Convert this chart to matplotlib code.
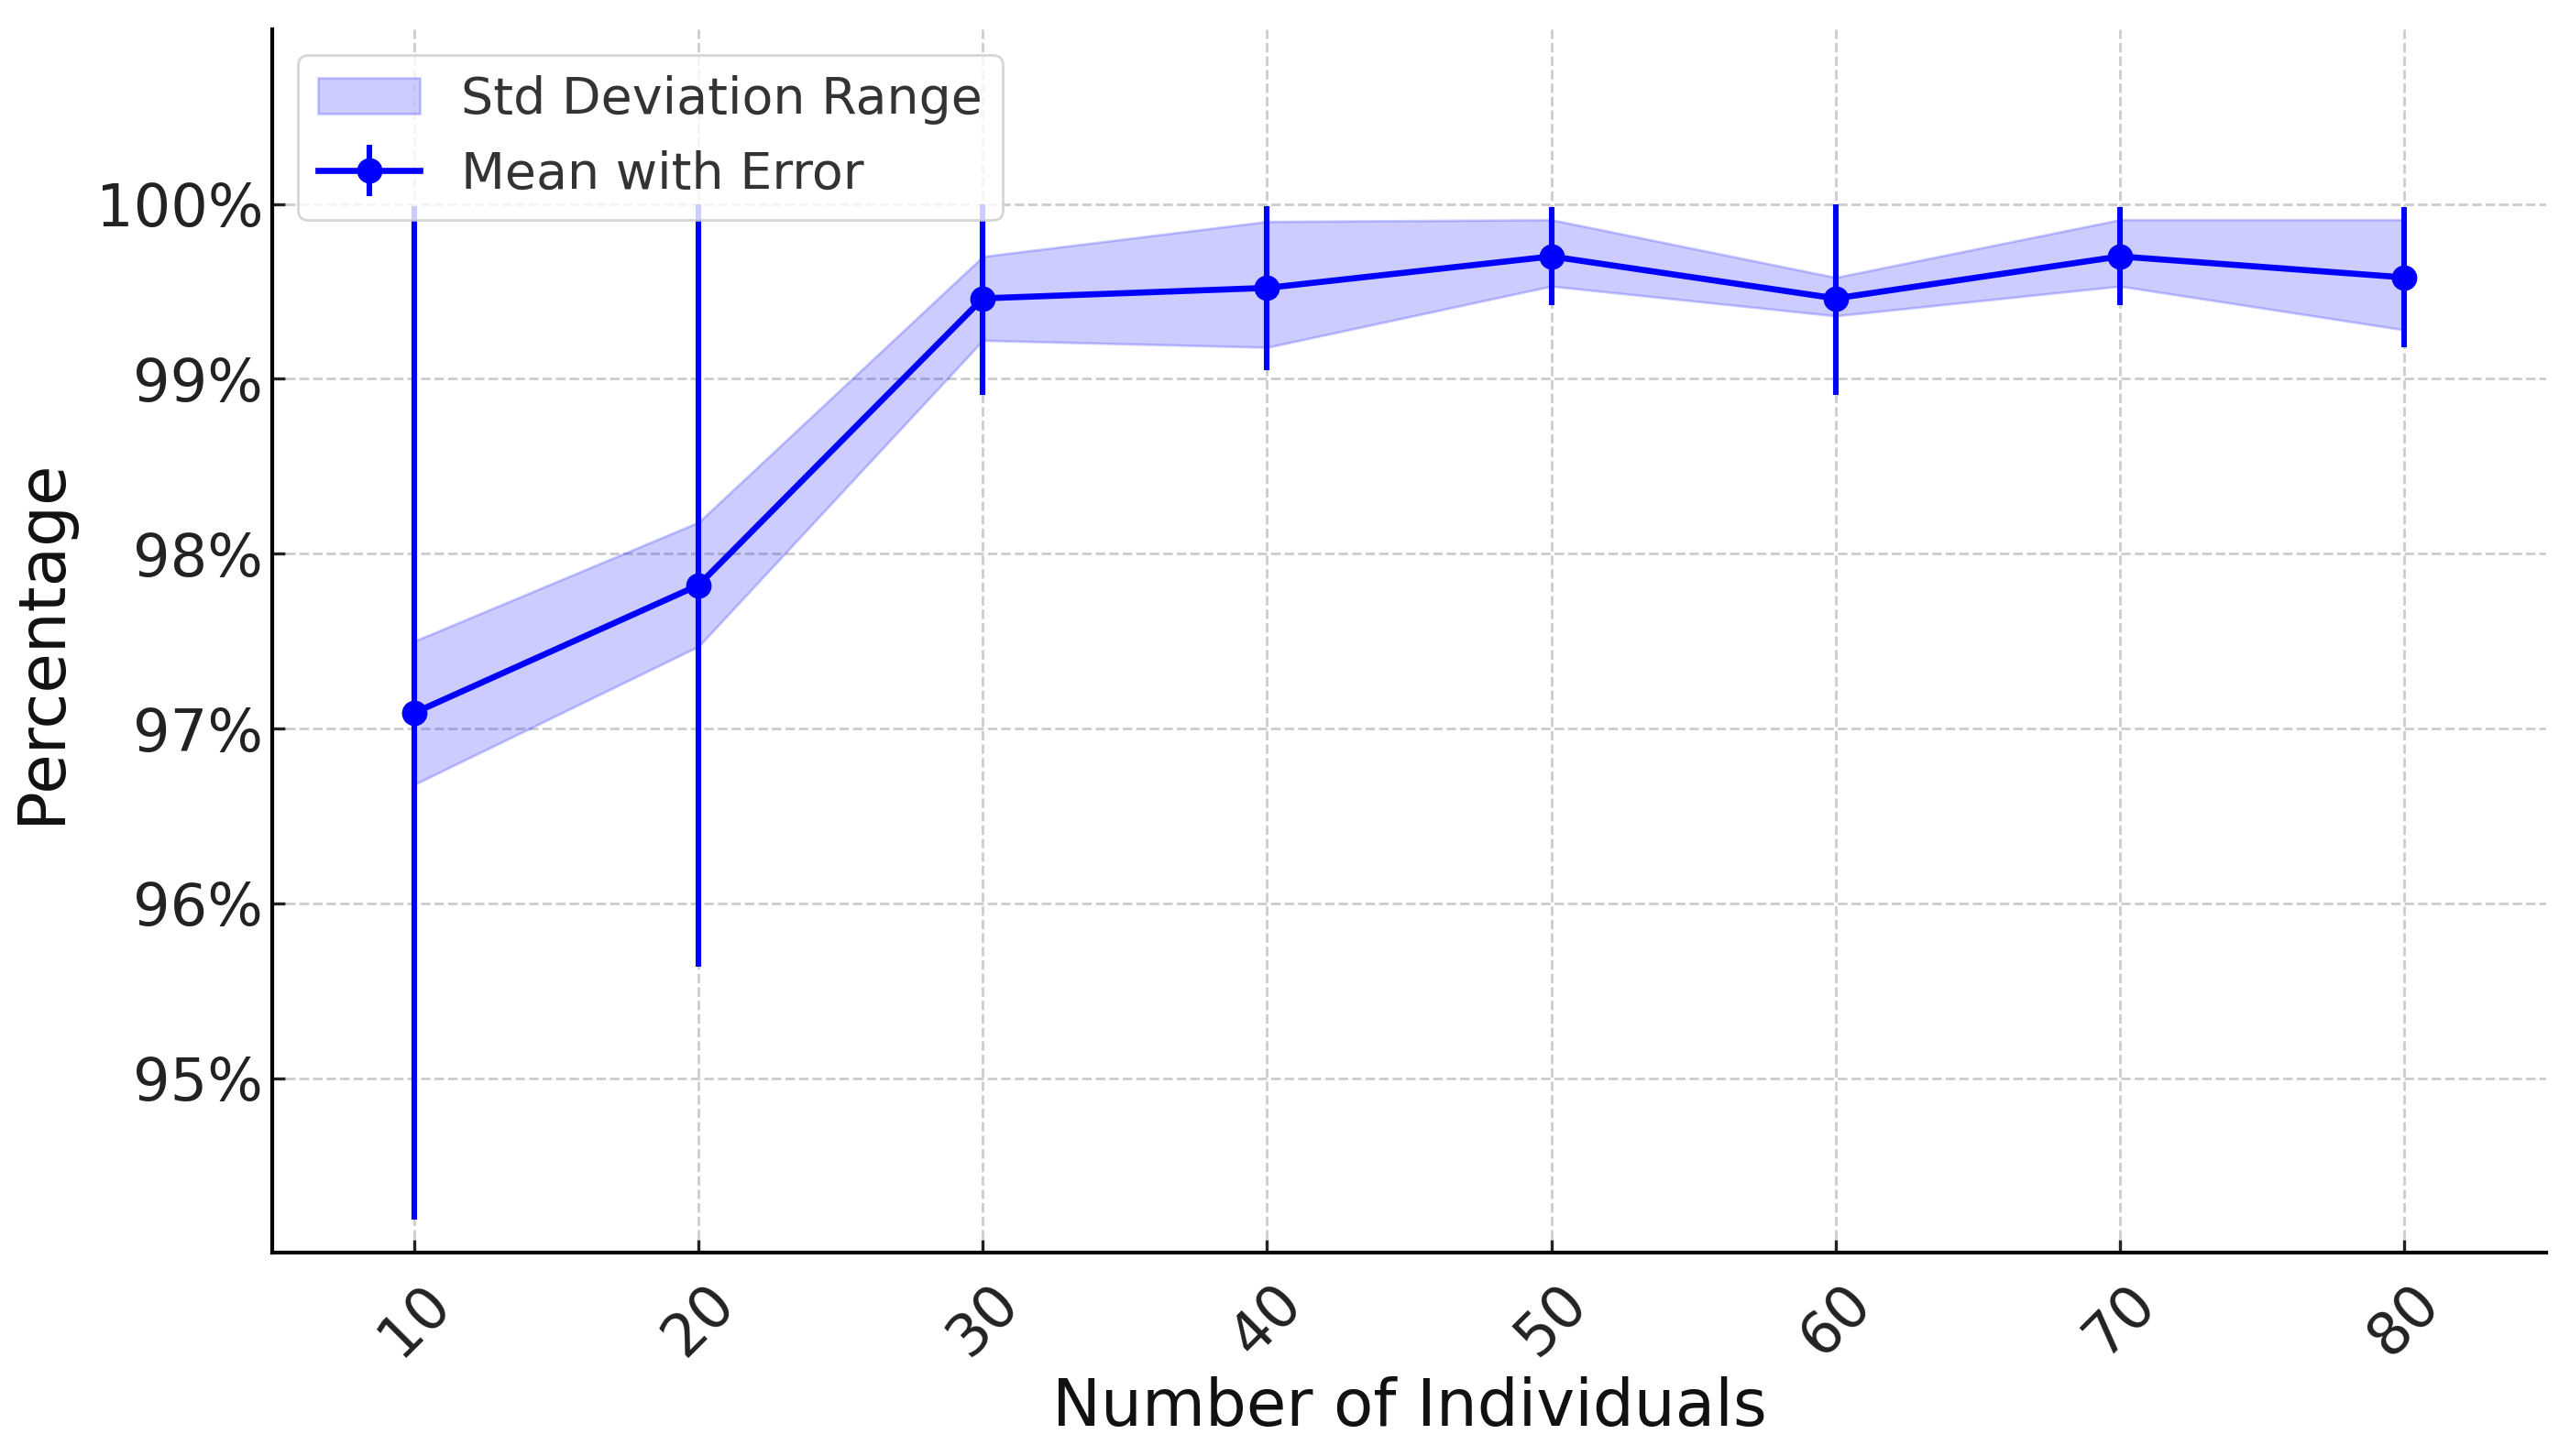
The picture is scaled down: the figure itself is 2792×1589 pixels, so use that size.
import numpy as np
import matplotlib.pyplot as plt
from matplotlib.ticker import PercentFormatter

# values
individuals = [10, 20, 30, 40, 50, 60, 70, 80]
mean_pct = [97.09, 97.82, 99.46, 99.52, 99.70, 99.46, 99.70, 99.58]
std_upper = [97.50, 98.18, 99.70, 99.90, 99.91, 99.58, 99.91, 99.91]
std_lower = [96.68, 97.47, 99.22, 99.18, 99.53, 99.36, 99.53, 99.28]
err = [2.90, 2.18, 0.55, 0.47, 0.28, 0.55, 0.28, 0.40]

mean_arr = np.array(mean_pct)
err_arr = np.array(err)
# upper error bar is capped at 100%
err_up = np.minimum(mean_arr + err_arr, 100.0) - mean_arr

fig = plt.figure(figsize=(13.96, 7.945), dpi=200)
ax = fig.add_axes([0.1064, 0.1394, 0.8886, 0.8406])

ax.fill_between(individuals, std_lower, std_upper, color='blue', alpha=0.2,
                label='Std Deviation Range')
ax.errorbar(individuals, mean_pct, yerr=[err_arr, err_up], fmt='-o', color='blue',
            lw=2.4, elinewidth=2.2, markersize=9, capsize=0, label='Mean with Error')

ax.set_xlim(5, 85)
ax.set_ylim(94, 101)
ax.set_xticks(individuals)
ax.set_yticks([95, 96, 97, 98, 99, 100])
ax.yaxis.set_major_formatter(PercentFormatter(decimals=0))

ax.tick_params(axis='both', labelsize=23, direction='in', length=5, width=1.2, colors='#222222')
ax.tick_params(axis='x', pad=8)
plt.setp(ax.get_xticklabels(), rotation=45)

ax.set_xlabel('Number of Individuals', fontsize=25.5, color='#111111', labelpad=4)
ax.set_ylabel('Percentage', fontsize=25.5, color='#111111', labelpad=9)

ax.grid(True, linestyle='--', color='#cccccc', linewidth=1)
ax.set_axisbelow(True)
ax.spines['top'].set_visible(False)
ax.spines['right'].set_visible(False)
ax.spines['left'].set_linewidth(1.5)
ax.spines['bottom'].set_linewidth(1.5)

leg = ax.legend(loc='upper left', fontsize=20, borderaxespad=0.5)
for t in leg.get_texts():
    t.set_color('#333333')

fig.savefig('out.png', dpi=200)
